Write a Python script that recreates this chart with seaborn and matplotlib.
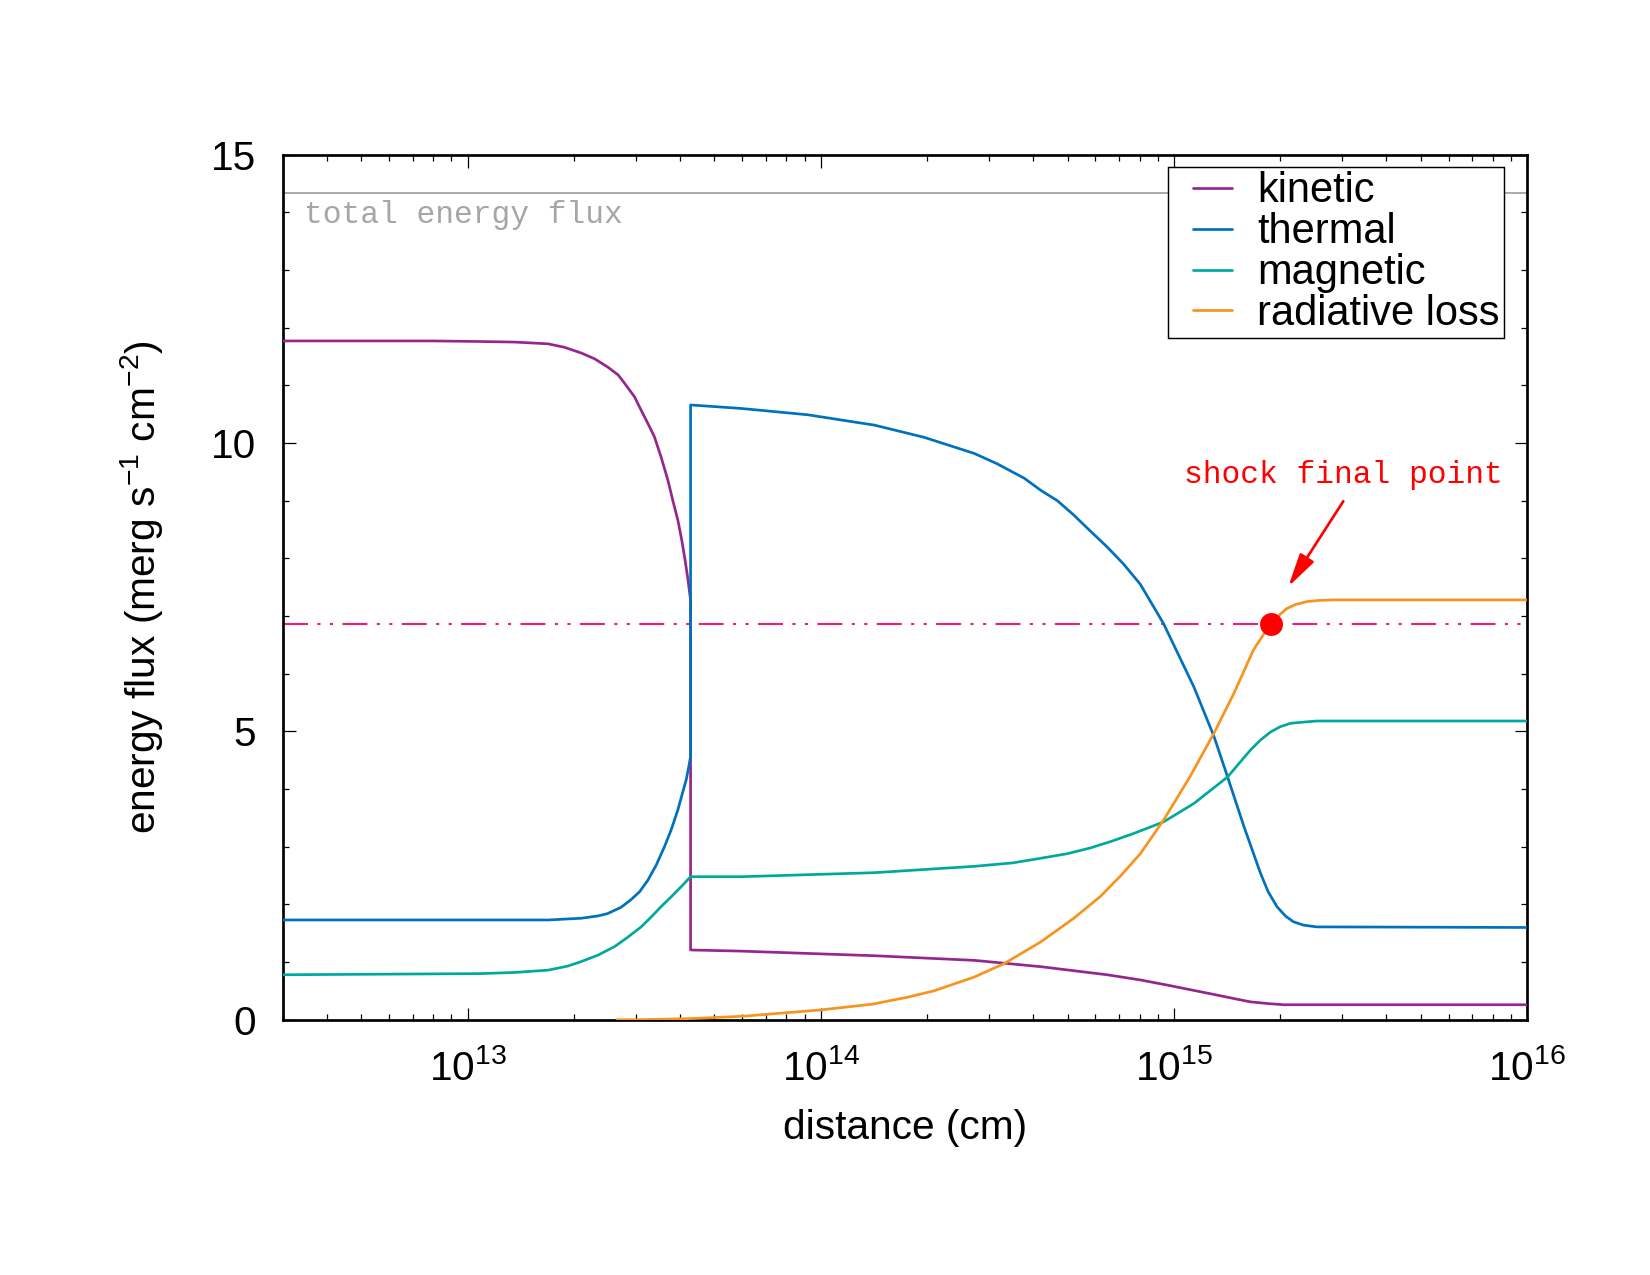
import numpy as np
import pandas as pd
import seaborn as sns
import matplotlib.pyplot as plt
from matplotlib.lines import Line2D
from matplotlib.legend_handler import HandlerLine2D
from matplotlib.ticker import LogLocator, MultipleLocator

# values (distance in cm, flux in merg s^-1 cm^-2)
kin_x = [3.0e12, 5.0e12, 8.0e12, 1.09e13, 1.36e13, 1.69e13, 1.88e13, 2.10e13, 2.29e13, 2.49e13,
         2.67e13, 2.78e13, 2.97e13, 3.10e13, 3.24e13, 3.38e13, 3.53e13, 3.69e13, 3.81e13, 3.94e13,
         4.04e13, 4.13e13, 4.21e13, 4.28e13, 4.28e13, 5.94e13, 1.42e14, 2.72e14, 4.20e14, 6.47e14,
         8.04e14, 9.60e14, 1.32e15, 1.50e15, 1.65e15, 1.85e15, 2.05e15, 1.0e16]
kin_y = [11.77, 11.77, 11.77, 11.76, 11.75, 11.72, 11.66, 11.56, 11.46, 11.32,
         11.18, 11.04, 10.80, 10.57, 10.34, 10.11, 9.76, 9.36, 9.01, 8.66,
         8.32, 7.97, 7.62, 7.28, 1.21, 1.19, 1.11, 1.03, 0.92, 0.78,
         0.69, 0.60, 0.43, 0.36, 0.31, 0.28, 0.26, 0.26]

th_x = [3.0e12, 1.09e13, 1.69e13, 2.10e13, 2.34e13, 2.49e13, 2.72e13, 2.90e13, 3.07e13, 3.24e13,
        3.42e13, 3.61e13, 3.77e13, 3.94e13, 4.06e13, 4.16e13, 4.23e13, 4.28e13,
        4.28e13, 5.94e13, 9.18e13, 1.42e14, 1.96e14, 2.72e14, 3.16e14, 3.77e14, 4.20e14, 4.68e14,
        5.21e14, 5.81e14, 6.47e14, 7.21e14, 8.04e14, 9.35e14, 1.14e15, 1.30e15, 1.42e15, 1.58e15,
        1.76e15, 1.85e15, 1.96e15, 2.07e15, 2.18e15, 2.33e15, 2.54e15, 1.0e16]
th_y = [1.73, 1.73, 1.73, 1.76, 1.80, 1.84, 1.95, 2.08, 2.22, 2.42,
        2.68, 3.00, 3.29, 3.64, 3.93, 4.16, 4.39, 4.56,
        10.66, 10.60, 10.49, 10.31, 10.10, 9.82, 9.64, 9.39, 9.18, 9.00,
        8.75, 8.47, 8.20, 7.90, 7.55, 6.87, 5.77, 4.91, 4.21, 3.35,
        2.54, 2.22, 1.96, 1.80, 1.70, 1.64, 1.61, 1.60]

mag_x = [3.0e12, 1.09e13, 1.36e13, 1.69e13, 1.92e13, 2.10e13, 2.34e13, 2.61e13, 2.84e13, 3.10e13,
         3.31e13, 3.53e13, 3.77e13, 4.03e13, 4.28e13, 5.94e13, 1.42e14, 2.72e14, 3.50e14, 4.20e14,
         5.00e14, 5.81e14, 6.70e14, 7.70e14, 9.35e14, 1.14e15, 1.42e15, 1.65e15, 1.76e15, 1.88e15,
         2.00e15, 2.14e15, 2.32e15, 2.54e15, 1.0e16]
mag_y = [0.78, 0.80, 0.82, 0.86, 0.93, 1.01, 1.12, 1.27, 1.43, 1.61,
         1.78, 1.96, 2.13, 2.31, 2.48, 2.48, 2.55, 2.66, 2.72, 2.80,
         2.88, 2.98, 3.10, 3.23, 3.43, 3.75, 4.21, 4.68, 4.85, 4.99,
         5.08, 5.14, 5.16, 5.18, 5.18]

rad_x = [2.65e13, 3.0e13, 4.28e13, 6.0e13, 1.0e14, 1.40e14, 1.76e14, 2.09e14, 2.72e14, 3.30e14,
         4.20e14, 5.21e14, 6.20e14, 7.08e14, 8.04e14, 9.35e14, 1.11e15, 1.30e15, 1.48e15, 1.68e15,
         1.88e15, 2.00e15, 2.09e15, 2.21e15, 2.38e15, 2.57e15, 2.83e15, 1.0e16]
rad_y = [0.0, 0.0, 0.02, 0.06, 0.17, 0.27, 0.39, 0.50, 0.74, 0.97,
         1.35, 1.76, 2.14, 2.50, 2.88, 3.46, 4.21, 4.97, 5.66, 6.41,
         6.87, 7.03, 7.13, 7.20, 7.25, 7.27, 7.28, 7.28]

total_flux = 14.33
shock_x = [1.88e15]
shock_y = [6.87]

names = ["kinetic", "thermal", "magnetic", "radiative loss"]
colors = ["#93278f", "#0071bc", "#00a99d", "#f7931e"]
series = [(kin_x, kin_y), (th_x, th_y), (mag_x, mag_y), (rad_x, rad_y)]

sns.set_style("ticks")
plt.rcParams['font.family'] = ['Liberation Sans', 'DejaVu Sans']
plt.rcParams['mathtext.fontset'] = 'custom'
plt.rcParams['mathtext.rm'] = 'Liberation Sans'
plt.rcParams['mathtext.it'] = 'Liberation Sans:italic'
plt.rcParams['mathtext.bf'] = 'Liberation Sans:bold'
plt.rcParams['text.color'] = 'black'
plt.rcParams['axes.labelcolor'] = 'black'
plt.rcParams['xtick.color'] = 'black'
plt.rcParams['ytick.color'] = 'black'

fs = 19.5
fig = plt.figure(figsize=(11, 8.5), dpi=150)
ax = fig.add_axes([0.1715, 0.2002, 0.7539, 0.6785])

for (xs, ys), name, c in zip(series, names, colors):
    df = pd.DataFrame({"x": xs, "y": ys})
    sns.lineplot(data=df, x="x", y="y", ax=ax, color=c, lw=1.3, label=name,
                 estimator=None, sort=False, zorder=3)

ax.axhline(total_flux, color="#a6a6a6", lw=0.9, zorder=2)
ax.axhline(shock_y[0], color="#ed1e79", lw=1.0,
           linestyle=(0, (12, 4.5, 1.5, 4.5, 1.5, 4.5)), zorder=2)
ax.plot(shock_x, shock_y, "o", color="#ff0000", ms=10, zorder=4)

ax.text(3.45e12, 13.81, "total energy flux", color="#a6a6a6", fontsize=15,
        family="Liberation Mono", va="baseline", ha="left")
ax.text(3.02e15, 9.30, "shock final point", color="#ff0000", fontsize=15,
        family="Liberation Mono", va="baseline", ha="center")
ax.annotate("", xy=(2.11e15, 7.51), xytext=(3.02e15, 8.99),
            arrowprops=dict(arrowstyle="-|>,head_length=0.9,head_width=0.22",
                            color="#ff0000", lw=1.3, mutation_scale=15,
                            shrinkA=0, shrinkB=0))

ax.set_xscale("log")
ax.set_xlim(3.0e12, 1.0e16)
ax.set_ylim(0, 15)
ax.xaxis.set_major_locator(LogLocator(base=10, numticks=10))
ax.xaxis.set_minor_locator(LogLocator(base=10, subs=np.arange(2, 10), numticks=20))
ax.yaxis.set_major_locator(MultipleLocator(5))
ax.yaxis.set_minor_locator(MultipleLocator(1))

ax.tick_params(which="both", direction="in", top=True, right=True, width=0.6, colors="black")
ax.tick_params(which="major", length=6)
ax.tick_params(which="minor", length=3)
ax.tick_params(axis="x", which="major", pad=14, labelsize=fs)
ax.tick_params(axis="y", which="major", pad=13, labelsize=fs)
for sp in ax.spines.values():
    sp.set_linewidth(1.3)
    sp.set_color("black")

ax.set_xlabel("distance (cm)", fontsize=fs, labelpad=10)
ax.set_ylabel("energy flux (merg s$^{-1}$ cm$^{-2}$)", fontsize=fs, labelpad=22)

leg = ax.legend(loc="upper right", bbox_to_anchor=(0.9815, 0.9854), borderaxespad=0,
                fontsize=20, handlelength=1.44, handletextpad=0.6, labelspacing=0.02,
                borderpad=0.1, frameon=True, fancybox=False, framealpha=1,
                handler_map={Line2D: HandlerLine2D(xpad=0.5)})
leg.get_frame().set_edgecolor("black")
leg.get_frame().set_linewidth(0.7)
leg.set_zorder(5)

fig.savefig("out.png", dpi=150)
